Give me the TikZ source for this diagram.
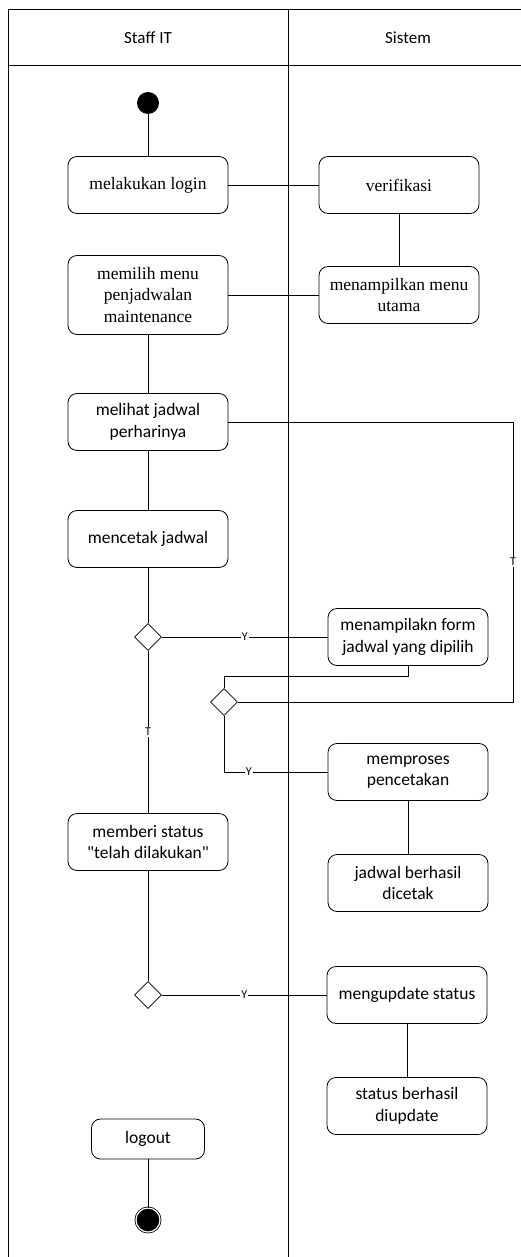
\documentclass[tikz,border=0pt]{standalone}
\usepackage{fontspec}
\setmainfont{Carlito}[Ligatures=TeXOff]
\newfontfamily\timesfont{Liberation Serif}
\usepackage{tikz}
\usetikzlibrary{shapes}

\begin{document}
\begin{tikzpicture}[x=1pt,y=-1pt,line width=0.8pt,
	act/.style={rectangle,rounded corners=9pt,draw,minimum width=160pt,minimum height=57pt,align=center,inner sep=2pt,font=\fontsize{17.5}{21.5}\selectfont},
	keputusan/.style={diamond,draw,minimum width=27pt,minimum height=27pt,inner sep=0pt},
	ket/.style={fill=white,inner sep=1pt,font=\fontsize{12}{12}\selectfont}]
\useasboundingbox (0,0) rectangle (521,1257);
\draw[line width=1pt] (8,1257) -- (8,10) -- (521,10);
\draw[line width=1pt] (8,66) -- (521,66);
\draw[line width=1pt] (288,10) -- (288,1257);
\node [font=\fontsize{17}{20}\selectfont] (lane1) at (148,38) {Staff IT};
\node [font=\fontsize{17}{20}\selectfont] (lane2) at (408,38) {Sistem};

\node [circle,fill=black,minimum size=22pt,inner sep=0pt] (mulai) at (148,103) {};
\node [act,font=\timesfont\fontsize{17.5}{21.5}\selectfont] (login) at (148,185) {melakukan login};
\node [act,font=\timesfont\fontsize{17.5}{21.5}\selectfont] (verif) at (399,185) {verifikasi};
\node [act,minimum height=79pt,font=\timesfont\fontsize{17.5}{21.5}\selectfont] (pilih) at (148,295) {memilih menu\\penjadwalan\\maintenance};
\node [act,font=\timesfont\fontsize{17.5}{21.5}\selectfont] (menu) at (399,295) {menampilkan menu\\utama};
\node [act] (lihat) at (148,422) {melihat jadwal\\perharinya};
\node [act] (cetak) at (148,539) {mencetak jadwal};
\node [keputusan] (satu) at (148,637) {};
\node [act] (form) at (408,637) {menampilakn form\\jadwal yang dipilih};
\node [keputusan] (dua) at (224,702) {};
\node [act] (proses) at (408,772) {memproses\\pencetakan};
\node [act] (dicetak) at (408,883) {jadwal berhasil\\dicetak};
\node [act] (status) at (148,842) {memberi status\\"telah dilakukan"};
\node [keputusan] (tiga) at (148,995) {};
\node [act] (update) at (407,995) {mengupdate status};
\node [act] (diupdate) at (407,1106) {status berhasil\\diupdate};
\node [act,minimum width=113pt,minimum height=40pt] (logout) at (148,1139) {logout};
\node [circle,fill=black,draw=black,double=white,double distance=1.2pt,minimum size=24pt,inner sep=0pt] (selesai) at (148,1220) {};

\coordinate (pojok) at (513,702);
\coordinate (belok) at (224,676);

\draw (mulai) -- (login);
\draw (login) -- (verif);
\draw (verif) -- (menu);
\draw (pilih) -- (menu);
\draw (pilih) -- (lihat);
\draw (lihat) -- (cetak);
\draw (cetak) -- (satu);
\draw (satu) -- node[ket] {Y} (form);
\draw (lihat.east) -| node[ket,pos=0.75] {T} (pojok) -- (dua.east);
\draw (form.south) |- (belok) -- (dua.north);
\draw (dua.south) |- node[ket,pos=0.62] {Y} (proses.west);
\draw (proses) -- (dicetak);
\draw (satu) -- node[ket] {T} (status);
\draw (status) -- (tiga);
\draw (tiga) -- node[ket] {Y} (update);
\draw (update) -- (diupdate);
\draw (logout) -- (selesai);
\end{tikzpicture}
\end{document}
